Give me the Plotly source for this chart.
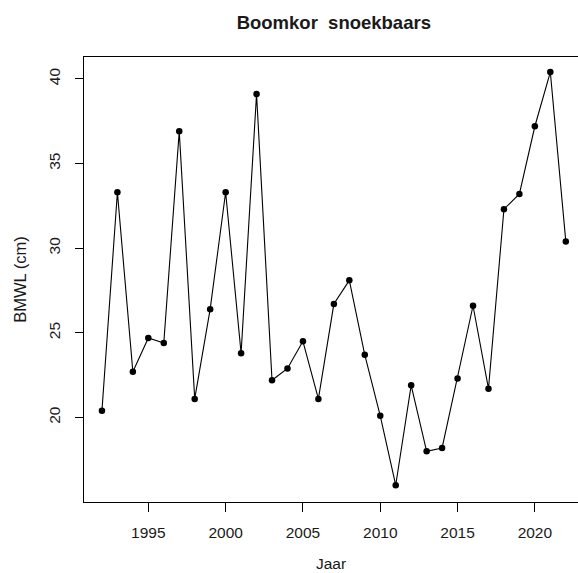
import plotly.graph_objects as go

# Jaarlijkse gemiddelde lengte (BMWL) van snoekbaars in de Boomkor-survey
jaren = list(range(1992, 2023))
bmwl_cm = [
    20.4, 33.3, 22.7, 24.7, 24.4, 36.9, 21.1, 26.4, 33.3, 23.8,
    39.1, 22.2, 22.9, 24.5, 21.1, 26.7, 28.1, 23.7, 20.1, 16.0,
    21.9, 18.0, 18.2, 22.3, 26.6, 21.7, 32.3, 33.2, 37.2, 40.4,
    30.4,
]
x_ticks = [1995, 2000, 2005, 2010, 2015, 2020]
y_ticks = [20, 25, 30, 35, 40]

FONT = "Liberation Sans, Arial, sans-serif"
INK = "#1a1a1a"

fig = go.Figure(
    go.Scatter(
        x=jaren,
        y=bmwl_cm,
        mode="lines+markers",
        line=dict(color="black", width=1.1),
        marker=dict(color="black", size=6.5, symbol="circle"),
        showlegend=False,
    )
)

fig.update_layout(
    width=578,
    height=573,
    margin=dict(l=84, r=0, t=57, b=71),
    paper_bgcolor="white",
    plot_bgcolor="white",
    font=dict(family=FONT, size=16, color=INK),
    title=dict(
        text="<b>Boomkor  snoekbaars</b>",
        x=0.5775,
        xanchor="center",
        y=1 - 23 / 573,
        yanchor="middle",
        font=dict(family=FONT, size=18.5, color=INK),
    ),
    xaxis=dict(
        range=[1990.84, 2022.79],
        tickvals=x_ticks,
        ticks="outside",
        ticklen=9,
        tickwidth=1,
        tickcolor="black",
        ticklabelstandoff=7,
        showline=True,
        linecolor="black",
        linewidth=1,
        mirror=True,
        showgrid=False,
        zeroline=False,
        automargin=False,
        tickfont=dict(size=15.5, color=INK),
    ),
    yaxis=dict(
        range=[15.01, 41.29],
        tickvals=y_ticks,
        tickangle=-90,
        ticks="outside",
        ticklen=8,
        tickwidth=1,
        tickcolor="black",
        ticklabelstandoff=9,
        showline=True,
        linecolor="black",
        linewidth=1,
        showgrid=False,
        zeroline=False,
        automargin=False,
        tickfont=dict(size=15.5, color=INK),
        title=dict(text="BMWL (cm)", font=dict(size=16.5, color=INK), standoff=15),
    ),
    annotations=[
        dict(
            text="Jaar",
            xref="paper",
            yref="paper",
            x=0.5,
            y=0,
            xanchor="center",
            yanchor="middle",
            yshift=-61,
            showarrow=False,
            font=dict(size=15.5, color=INK),
        )
    ],
)

fig.write_html("out.html")
